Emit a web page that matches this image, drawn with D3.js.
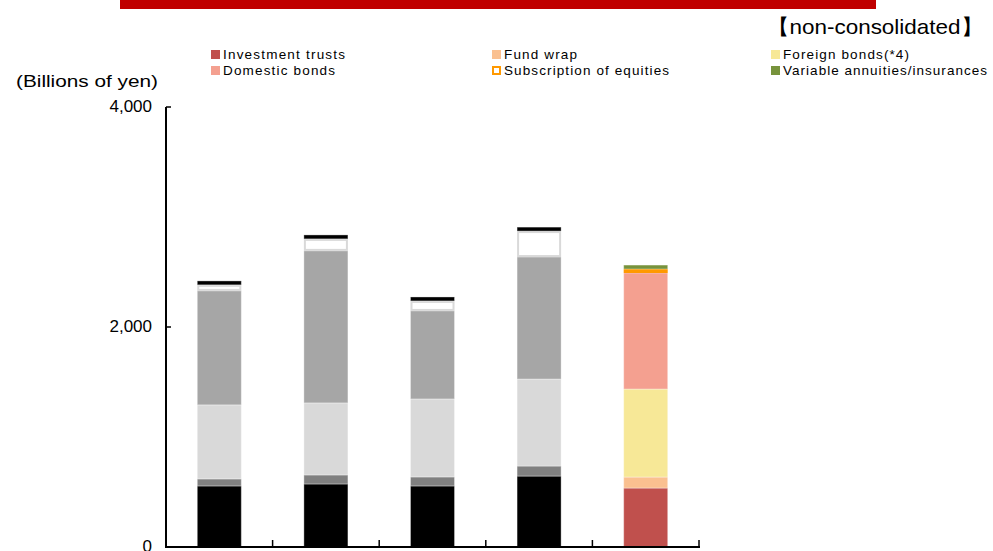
<!DOCTYPE html>
<html>
<head>
<meta charset="utf-8">
<script src="https://cdn.jsdelivr.net/npm/d3@7"></script>
<style>
  body { margin: 0; background: #fff; }
  svg { display: block; font-family: "Liberation Sans", Arial, sans-serif; }
</style>
</head>
<body>
<svg id="chart" width="993" height="551"></svg>
<script>
// Sales of products by period (billions of yen), stacked
const periods = ["Period 1", "Period 2", "Period 3", "Period 4", "Period 5"];
const seriesNames = ["Investment trusts", "Fund wrap", "Foreign bonds(*4)",
                     "Domestic bonds", "Subscription of equities", "Variable annuities/insurances"];
const investmentTrusts  = [555, 573, 555, 645, 536];
const fundWrap          = [64, 82, 82, 91, 100];
const foreignBonds      = [673, 655, 709, 791, 800];
const domesticBonds     = [1036, 1382, 800, 1109, 1055];
const subscriptionEq    = [55, 109, 91, 236, 36];
const variableAnnuities = [36, 36, 36, 36, 36];
const yTicks = [0, 2000, 4000];

// latest period in colour, earlier periods in greys
const currentColors = ["#C0504D", "#FAC090", "#F7E897", "#F4A090", "#FFFFFF", "#77933C"];
const pastColors    = ["#000000", "#808080", "#D9D9D9", "#A6A6A6", "#FFFFFF", "#000000"];
const boxStrokeCurrent = "#FF9900";
const boxStrokePast = "#D9D9D9";

const seriesValues = [investmentTrusts, fundWrap, foreignBonds, domesticBonds, subscriptionEq, variableAnnuities];
const rows = periods.map((p, i) => {
  const r = { period: p };
  seriesNames.forEach((s, k) => r[s] = seriesValues[k][i]);
  return r;
});
const stacked = d3.stack().keys(seriesNames)(rows);

const svg = d3.select("#chart");

// header band
svg.append("rect").attr("x", 120).attr("y", 0).attr("width", 756).attr("height", 9).attr("fill", "#C00000");
svg.append("text").attr("x", 767).attr("y", 28).attr("dominant-baseline", "middle")
  .attr("font-size", 21).attr("textLength", 216).attr("lengthAdjust", "spacingAndGlyphs")
  .attr("fill", "#000").text("【non-consolidated】");

const x = d3.scaleBand().domain(periods).range([166, 699]).paddingInner(0.587).paddingOuter(0.2935);
const y = d3.scaleLinear().domain([0, 4000]).range([547, 107]);
const step = x.step();

// bars
const isLast = i => i === periods.length - 1;
stacked.forEach((layer, k) => {
  const g = svg.append("g");
  layer.forEach((d, i) => {
    const x0 = x(periods[i]), w = x.bandwidth();
    const y0 = y(d[1]), h = y(d[0]) - y(d[1]);
    const fill = isLast(i) ? currentColors[k] : pastColors[k];
    if (k === 4) {
      const sc = isLast(i) ? boxStrokeCurrent : boxStrokePast;
      g.append("rect").attr("x", x0 + 1).attr("y", y0 + 1).attr("width", w - 2).attr("height", Math.max(h - 2, 0))
        .attr("fill", "#fff").attr("stroke", sc).attr("stroke-width", 2);
    } else {
      g.append("rect").attr("x", x0).attr("y", y0).attr("width", w).attr("height", h)
        .attr("fill", fill).attr("stroke", "#fff").attr("stroke-opacity", 0.35).attr("stroke-width", 1);
    }
  });
});

// y axis
svg.append("line").attr("x1", 166).attr("x2", 166).attr("y1", y(4000)).attr("y2", y(0))
  .attr("stroke", "#000").attr("stroke-width", 2);
yTicks.forEach(t => {
  svg.append("line").attr("x1", 166).attr("x2", 171).attr("y1", y(t)).attr("y2", y(t))
    .attr("stroke", "#000").attr("stroke-width", 1.5);
  svg.append("text").attr("x", 152).attr("y", y(t) + 1).attr("text-anchor", "end")
    .attr("dominant-baseline", "middle").attr("font-size", 17).attr("fill", "#000")
    .text(d3.format(",")(t));
});

// x axis
svg.append("line").attr("x1", 165).attr("x2", 700).attr("y1", y(0)).attr("y2", y(0))
  .attr("stroke", "#000").attr("stroke-width", 2);
periods.forEach(p => {
  const bx = x(p) + x.bandwidth() + (step - x.bandwidth()) / 2;
  svg.append("line").attr("x1", bx).attr("x2", bx).attr("y1", y(0)).attr("y2", y(0) - 7)
    .attr("stroke", "#000").attr("stroke-width", 1.5);
});

// axis unit
svg.append("text").attr("x", 16).attr("y", 83).attr("dominant-baseline", "middle")
  .attr("font-size", 17).attr("textLength", 142).attr("lengthAdjust", "spacingAndGlyphs")
  .attr("fill", "#000").text("(Billions of yen)");

// legend
const legendPos = [
  { x: 211, y: 55, w: 122 }, { x: 492, y: 55, w: 73 }, { x: 771, y: 55, w: 126 },
  { x: 211, y: 71, w: 112 }, { x: 492, y: 71, w: 165 }, { x: 771, y: 71, w: 204 }
];
seriesNames.forEach((s, k) => {
  const p = legendPos[k];
  const g = svg.append("g");
  if (k === 4) {
    g.append("rect").attr("x", p.x + 1).attr("y", p.y - 4).attr("width", 7).attr("height", 7)
      .attr("fill", "#fff").attr("stroke", boxStrokeCurrent).attr("stroke-width", 2);
  } else {
    g.append("rect").attr("x", p.x).attr("y", p.y - 5).attr("width", 9).attr("height", 9)
      .attr("fill", currentColors[k]);
  }
  g.append("text").attr("x", p.x + 12).attr("y", p.y).attr("dominant-baseline", "middle")
    .attr("font-size", 13.5).attr("textLength", p.w).attr("lengthAdjust", "spacing")
    .attr("fill", "#000").text(s);
});
</script>
</body>
</html>
